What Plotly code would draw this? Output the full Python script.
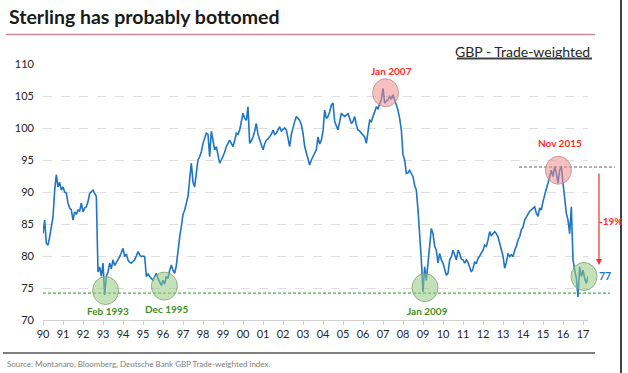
import plotly.graph_objects as go

# ---------------- data (monthly) ----------------
gbp_twi = {
    1990: [83.5, 85.6, 82.0, 81.7, 83.0, 84.5, 86.1, 90.3, 92.7, 90.8, 91.5, 90.3],
    1991: [90.8, 90.0, 89.8, 88.3, 87.5, 87.2, 85.6, 86.9, 86.5, 87.2, 87.0, 88.3],
    1992: [86.9, 87.5, 87.7, 88.5, 89.8, 90.0, 90.3, 89.8, 89.3, 77.5, 78.3, 76.8],
    1993: [78.9, 73.9, 76.8, 77.5, 78.9, 78.0, 79.4, 78.5, 78.9, 79.5, 79.9, 80.5],
    1994: [81.2, 79.9, 80.3, 79.4, 79.0, 78.9, 79.2, 79.4, 80.0, 80.7, 80.2, 79.9],
    1995: [80.0, 79.9, 76.8, 77.2, 76.8, 76.5, 76.2, 76.8, 77.3, 76.5, 75.8, 75.4],
    1996: [76.2, 75.6, 76.8, 76.5, 77.8, 78.6, 77.8, 77.3, 78.5, 80.9, 83.0, 84.6],
    1997: [86.5, 87.2, 88.5, 89.3, 92.0, 94.5, 91.5, 90.8, 93.0, 95.0, 95.5, 96.3],
    1998: [97.6, 98.5, 99.2, 99.0, 95.5, 99.5, 98.0, 96.6, 97.1, 95.5, 94.5, 95.0],
    1999: [95.5, 96.2, 97.1, 97.5, 98.1, 97.6, 97.1, 98.0, 99.2, 99.0, 99.7, 101.0],
    2000: [102.3, 101.5, 101.2, 103.3, 97.6, 98.0, 98.6, 99.5, 100.7, 99.0, 98.1, 97.5],
    2001: [96.6, 97.5, 98.1, 98.3, 98.6, 99.0, 99.7, 99.0, 99.2, 99.8, 100.2, 99.5],
    2002: [99.7, 100.0, 99.7, 98.5, 97.1, 99.0, 100.2, 101.0, 101.8, 101.5, 101.2, 100.5],
    2003: [99.2, 97.1, 96.0, 95.0, 94.2, 95.0, 95.5, 96.0, 96.6, 98.6, 97.5, 98.1],
    2004: [99.5, 102.8, 101.5, 101.8, 102.5, 103.6, 103.9, 101.0, 100.2, 99.7, 101.0, 102.3],
    2005: [102.0, 101.8, 102.0, 102.3, 101.5, 100.7, 101.0, 101.8, 100.5, 99.7, 99.5, 99.2],
    2006: [98.8, 98.6, 97.6, 99.5, 101.2, 101.0, 101.8, 102.5, 103.3, 103.0, 103.9, 104.5],
    2007: [106.2, 103.9, 104.2, 104.4, 104.9, 104.5, 105.2, 104.4, 103.5, 102.8, 101.5, 99.7],
    2008: [95.8, 95.0, 92.9, 93.0, 93.4, 92.8, 92.4, 91.0, 90.3, 87.2, 83.5, 79.4],
    2009: [74.4, 78.3, 76.2, 78.9, 81.5, 84.3, 83.5, 81.5, 80.9, 78.9, 80.4, 79.4],
    2010: [78.9, 78.0, 77.0, 77.3, 79.4, 79.9, 80.9, 80.2, 79.4, 80.9, 80.4, 79.5],
    2011: [79.4, 78.9, 79.4, 79.0, 78.3, 77.5, 78.0, 79.1, 78.8, 79.6, 80.0, 80.4],
    2012: [80.9, 81.7, 81.5, 82.5, 83.8, 83.2, 83.5, 83.8, 83.5, 83.0, 82.0, 80.9],
    2013: [80.0, 78.1, 79.0, 80.4, 79.9, 80.2, 79.9, 80.9, 81.5, 82.5, 83.0, 84.1],
    2014: [84.5, 85.6, 86.1, 86.7, 87.0, 87.2, 87.5, 87.7, 86.7, 86.2, 87.5, 87.2],
    2015: [88.5, 89.8, 90.5, 91.4, 92.5, 93.4, 92.4, 94.0, 93.0, 91.4, 93.4, 94.0],
    2016: [91.4, 88.8, 86.7, 85.6, 83.5, 87.7, 79.4, 77.8, 76.5, 73.6, 78.3, 76.8],
    2017: [77.8, 76.5, 75.7, 76.8],
}
tick_years = list(range(1990, 2018))
tick_labels = [f"{y % 100:02d}" for y in tick_years]
y_ticks = [70, 75, 80, 85, 90, 95, 100, 105, 110]

# flatten to decimal-year x / value y
xs, ys = [], []
for yr, vals in gbp_twi.items():
    for m, v in enumerate(vals):
        xs.append(yr + m / 12.0)
        ys.append(v)

# ---------------- layout geometry ----------------
W, H = 628, 373
L, R, T, B = 43, 40, 64, 53
PW, PH = W - L - R, H - T - B
X0, X1 = 1990, 2017.25
Y0, Y1 = 70, 110

def xd(year):  # data -> paper
    return (year - X0) / (X1 - X0)

def yd(v):
    return (v - Y0) / (Y1 - Y0)

def xpx(px):  # pixel -> paper
    return (px - L) / PW

def ypx(py):
    return (H - B - py) / PH

FONT = "Lato"
fig = go.Figure()
fig.add_trace(go.Scatter(x=xs, y=ys, mode="lines",
                         line=dict(color="#1f74c4", width=1.6),
                         hoverinfo="skip", showlegend=False))

shapes = []
ann = []

def circle(year, val, fill, line):
    rx, ry = 13 / PW, 14 / PH
    cx, cy = xd(year), yd(val)
    shapes.append(dict(type="circle", xref="paper", yref="paper",
                       x0=cx - rx, x1=cx + rx, y0=cy - ry, y1=cy + ry,
                       fillcolor=fill, line=dict(color=line, width=1),
                       layer="above"))

GF, GL = "rgba(150,200,130,0.55)", "rgba(130,160,120,0.8)"
PF, PL = "rgba(240,140,140,0.55)", "rgba(190,140,140,0.8)"

# reference lines
shapes.append(dict(type="line", xref="paper", yref="paper",
                   x0=xpx(43), x1=xpx(610), y0=yd(74.2), y1=yd(74.2),
                   line=dict(color="#4caf50", width=1.2, dash="3px,2px")))
shapes.append(dict(type="line", xref="paper", yref="paper",
                   x0=xpx(519), x1=xpx(615), y0=yd(93.9), y1=yd(93.9),
                   line=dict(color="#666666", width=1, dash="3px,2px")))

circle(1993.13, 74.6, GF, GL)
circle(1996.07, 75.3, GF, GL)
circle(2009.1, 75.05, GF, GL)
circle(2017.05, 76.8, GF, GL)
circle(2007.13, 105.5, PF, PL)
circle(2015.77, 93.4, PF, PL)

# frame lines
shapes.append(dict(type="line", xref="paper", yref="paper",
                   x0=xpx(6), x1=xpx(595), y0=ypx(34.5), y1=ypx(34.5),
                   line=dict(color="#c48a9a", width=1.5)))
shapes.append(dict(type="line", xref="paper", yref="paper",
                   x0=xpx(3), x1=xpx(595), y0=ypx(353), y1=ypx(353),
                   line=dict(color="#7f7f7f", width=2)))
shapes.append(dict(type="line", xref="paper", yref="paper",
                   x0=xpx(621), x1=xpx(621), y0=ypx(0), y1=ypx(373),
                   line=dict(color="#404040", width=2)))
# underline of box title
shapes.append(dict(type="line", xref="paper", yref="paper",
                   x0=xpx(457), x1=xpx(592), y0=ypx(58.5), y1=ypx(58.5),
                   line=dict(color="#404040", width=2)))

def text(px, py, s, size, color, bold=False, xanchor="center"):
    ann.append(dict(x=xpx(px), y=ypx(py), xref="paper", yref="paper",
                    text=f"<b>{s}</b>" if bold else s, showarrow=False,
                    xanchor=xanchor, yanchor="middle",
                    font=dict(family=FONT, size=size, color=color)))

text(7, 16, "Sterling has probably bottomed", 19.5, "#1a1a1a", bold=True, xanchor="left")
text(592, 51, "GBP - Trade-weighted", 14, "#262626", xanchor="right")
text(5, 364, "Source: Montanaro, Bloomberg, Deutsche Bank GBP Trade-weighted index.",
     8, "#808080", xanchor="left")

text(391, 71, "Jan 2007", 10, "#ff2a2a", bold=True)
text(560, 143, "Nov 2015", 10, "#ff2a2a", bold=True)
text(108, 311, "Feb 1993", 10, "#3f8f1f", bold=True)
text(167, 309, "Dec 1995", 10, "#3f8f1f", bold=True)
text(427, 311, "Jan 2009", 10, "#3f8f1f", bold=True)
text(605, 276, "77", 10.5, "#1f74c4", bold=True)
text(611, 221, "-19%", 10, "#ff2a2a", bold=True)

# red arrow
ann.append(dict(x=xpx(599), y=ypx(265), xref="paper", yref="paper",
                ax=0, ay=-(265 - 172), axref="pixel", ayref="pixel",
                showarrow=True, arrowhead=2, arrowsize=1, arrowwidth=1.2,
                arrowcolor="#ff2a2a", text=""))

fig.update_layout(
    width=W, height=H,
    margin=dict(l=L, r=R, t=T, b=B),
    paper_bgcolor="white", plot_bgcolor="white",
    shapes=shapes, annotations=ann,
    xaxis=dict(range=[X0, X1], tickvals=tick_years, ticktext=tick_labels,
               showgrid=False, zeroline=False, showline=True,
               linecolor="#d0d0d0", linewidth=1, ticks="outside",
               ticklen=4, tickcolor="#d0d0d0",
               tickfont=dict(family=FONT, size=11, color="#262626")),
    yaxis=dict(range=[Y0, Y1], tickvals=y_ticks, showgrid=True,
               gridcolor="#dedede", griddash="dash", gridwidth=1,
               zeroline=False, showline=False, ticks="",
               ticklabelstandoff=8,
               tickfont=dict(family=FONT, size=11, color="#262626")),
)

fig.write_html("out.html", config={"displayModeBar": False},
               post_script="document.body.style.margin='0px';document.body.style.overflow='hidden';")
